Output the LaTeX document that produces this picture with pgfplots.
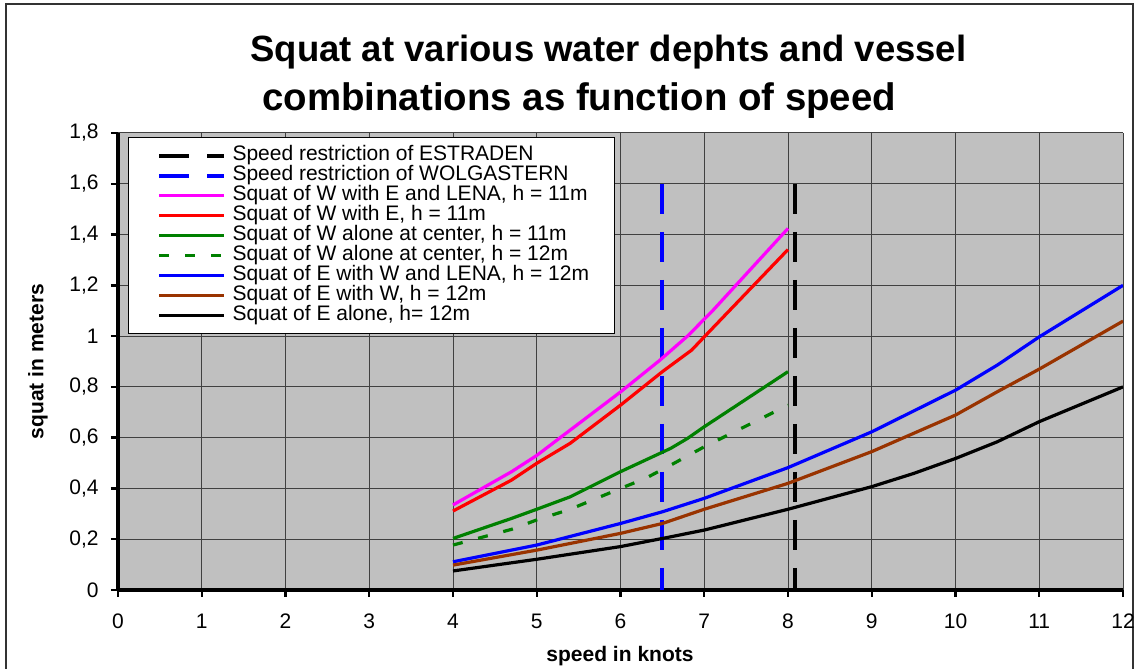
\documentclass[border=0pt]{standalone}
\usepackage{pgfplots}
\pgfplotsset{compat=1.18}
\usepackage{fontspec}
\setmainfont{Liberation Sans}
\definecolor{bggray}{HTML}{C0C0C0}
\definecolor{brownline}{HTML}{993300}
\definecolor{greenline}{HTML}{008000}
\definecolor{magline}{HTML}{FF00FF}
\definecolor{redline}{HTML}{FF0000}
\definecolor{blueline}{HTML}{0000FF}
\begin{document}
\begin{tikzpicture}[x=1pt,y=1pt]
\path[use as bounding box] (0,0) rectangle (570.5,334.5);
\draw[black!80, line width=0.6pt] (3,-2) -- (3,332.5) -- (566.5,332.5) -- (566.5,-2);
\begin{axis}[
  at={(59pt,39.5pt)}, anchor=south west,
  scale only axis, width=502.5pt, height=228.5pt,
  xmin=0, xmax=12, ymin=0, ymax=1.8,
  xtick={0,1,2,3,4,5,6,7,8,9,10,11,12},
  ytick={0,0.2,0.4,0.6,0.8,1,1.2,1.4,1.6,1.8},
  axis background/.style={fill=bggray},
  grid=major,
  major grid style={draw=black!75, line width=0.5pt},
  axis x line*=bottom, axis y line*=left,
  axis line style={-, black, line width=1.6pt},
  tick align=outside, major tick length=3.5pt,
  tick style={black, line width=1.2pt},
  tick label style={font=\fontsize{10.5}{12}\selectfont},
  xticklabel style={anchor=base, yshift=-16pt, inner sep=0pt},
  yticklabel style={anchor=east, xshift=-6pt, inner sep=0pt,
    /pgf/number format/use comma, /pgf/number format/fixed,
    /pgf/number format/precision=1},
  /pgf/number format/assume math mode=true,
  legend style={
    at={(0.00995,0.9912)}, anchor=north west,
    draw=black, line width=0.5pt, fill=white,
    font=\fontsize{10.5}{10}\selectfont,
    inner xsep=9.5pt, inner ysep=4pt, row sep=0pt,
    nodes={inner xsep=3pt, inner ysep=0pt, text height=7.7pt, text depth=2.3pt, anchor=west},
  },
  legend cell align=left,
  legend image code/.code={\path (0pt,0pt); \draw[#1] (5pt,0pt) -- (37.5pt,0pt);},
  every axis plot/.append style={line width=1.6pt},
]
\addplot[black, line width=2pt, dash pattern=on 15pt off 9pt] coordinates {(8.08,1.6) (8.08,0)};
\addlegendentry{Speed restriction of ESTRADEN}
\addplot[blueline, line width=2pt, dash pattern=on 15pt off 9pt] coordinates {(6.5,1.6) (6.5,0)};
\addlegendentry{Speed restriction of WOLGASTERN}
\addplot[magline] coordinates {(4,0.335) (4.7,0.466) (5,0.53) (6,0.78) (6.47,0.905) (6.8,1.0) (7.1,1.10) (8,1.424)};
\addlegendentry{Squat of W with E and LENA, h = 11m}
\addplot[redline] coordinates {(4,0.311) (4.7,0.433) (5,0.499) (5.4,0.578) (6,0.728) (6.5,0.86) (6.85,0.945) (7,0.997) (8,1.341)};
\addlegendentry{Squat of W with E, h = 11m}
\addplot[greenline] coordinates {(4,0.203) (4.7,0.282) (5,0.318) (5.4,0.367) (6,0.466) (6.6,0.558) (6.8,0.597) (7,0.643) (8,0.86)};
\addlegendentry{Squat of W alone at center, h = 11m}
\addplot[greenline, dash pattern=on 5pt off 8pt] coordinates {(4,0.177) (4.7,0.239) (5,0.276) (5.4,0.318) (6,0.40) (6.3,0.44) (6.6,0.492) (7,0.564) (8,0.728)};
\addlegendentry{Squat of W alone at center, h = 12m}
\addplot[blueline] coordinates {(4,0.111) (5,0.177) (6,0.262) (6.5,0.308) (7,0.361) (8,0.482) (9,0.623) (10,0.787) (10.5,0.886) (11,0.997) (12,1.20)};
\addlegendentry{Squat of E with W and LENA, h = 12m}
\addplot[brownline] coordinates {(4,0.098) (5,0.157) (6,0.223) (6.5,0.262) (7,0.318) (8,0.42) (9,0.545) (10,0.689) (10.5,0.781) (11,0.870) (12,1.059)};
\addlegendentry{Squat of E with W, h = 12m}
\addplot[black] coordinates {(4,0.075) (5,0.121) (6,0.171) (6.5,0.203) (7,0.236) (8,0.318) (9,0.407) (9.5,0.459) (10,0.518) (10.5,0.584) (11,0.663) (12,0.80)};
\addlegendentry{Squat of E alone, h= 12m}
\end{axis}
\node[anchor=base west, font=\bfseries\fontsize{18.25}{20}\selectfont, inner sep=0pt] at (125,303.5) {Squat at various water dephts and vessel};
\node[anchor=base west, font=\bfseries\fontsize{19.2}{20}\selectfont, inner sep=0pt] at (131,279) {combinations as function of speed};
\node[anchor=base, font=\bfseries\fontsize{10.5}{12}\selectfont, inner sep=0pt] at (310,3.5) {speed in knots};
\node[rotate=90, font=\bfseries\fontsize{10.5}{12}\selectfont, inner sep=0pt] at (19,153.75) {squat in meters};
\end{tikzpicture}
\end{document}
